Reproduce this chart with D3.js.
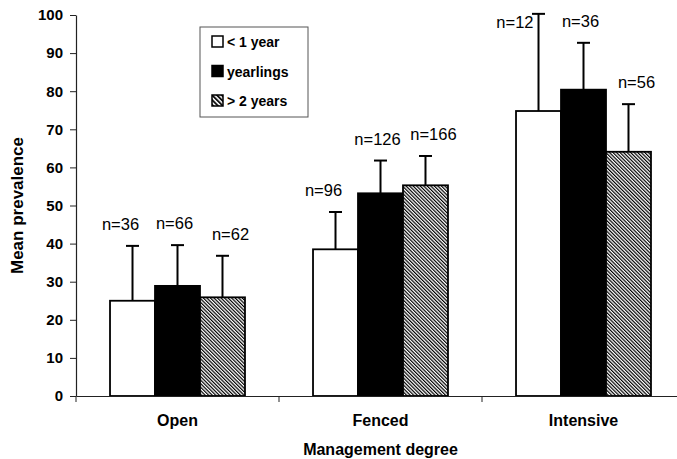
<!DOCTYPE html>
<html>
<head>
<meta charset="utf-8">
<script src="https://cdn.jsdelivr.net/npm/d3@7"></script>
<style>
  body { margin: 0; background: #fff; }
  svg { display: block; font-family: "Liberation Sans", Arial, sans-serif; }
</style>
</head>
<body>
<div id="chart"></div>
<script>
// data
const categories = ["Open", "Fenced", "Intensive"];
const groups = ["< 1 year", "yearlings", "> 2 years"];
const meanUnder1 = [25.0, 38.5, 74.8];
const meanYearlings = [28.9, 53.2, 80.4];
const meanOver2 = [25.9, 55.3, 64.1];
const sdUnder1 = [14.4, 9.8, 25.5];
const sdYearlings = [10.7, 8.6, 12.3];
const sdOver2 = [10.9, 7.7, 12.5];
const nUnder1 = [36, 96, 12];
const nYearlings = [66, 126, 36];
const nOver2 = [62, 166, 56];
const yTicks = [0, 10, 20, 30, 40, 50, 60, 70, 80, 90, 100];

const width = 677, height = 459;
const margin = { top: 15, left: 76, bottom: 63 };
const plotRight = 685;

const means = [meanUnder1, meanYearlings, meanOver2];
const sds = [sdUnder1, sdYearlings, sdOver2];
const ns = [nUnder1, nYearlings, nOver2];
const fills = ["#fff", "#000", "url(#hatch)"];
const labelDx = [-12, -3, 8];

const rows = [];
groups.forEach((g, gi) => {
  categories.forEach((c, ci) => {
    rows.push({ cat: c, group: g, gi: gi, mean: means[gi][ci], sd: sds[gi][ci], n: ns[gi][ci] });
  });
});

const svg = d3.select("#chart").append("svg")
  .attr("width", width)
  .attr("height", height);

// hatch patterns
const defs = svg.append("defs");
defs.append("pattern")
  .attr("id", "hatch")
  .attr("patternUnits", "userSpaceOnUse")
  .attr("width", 2.5)
  .attr("height", 2.5)
  .attr("patternTransform", "rotate(-45)")
  .call(p => {
    p.append("rect").attr("width", 2.5).attr("height", 2.5).attr("fill", "#fff");
    p.append("line").attr("x1", 0.6).attr("x2", 0.6).attr("y1", 0).attr("y2", 2.5)
      .attr("stroke", "#000").attr("stroke-width", 1.2);
  });
defs.append("pattern")
  .attr("id", "hatch-legend")
  .attr("patternUnits", "userSpaceOnUse")
  .attr("width", 3.4)
  .attr("height", 3.4)
  .attr("patternTransform", "rotate(-45)")
  .call(p => {
    p.append("rect").attr("width", 3.4).attr("height", 3.4).attr("fill", "#fff");
    p.append("line").attr("x1", 1).attr("x2", 1).attr("y1", 0).attr("y2", 3.4)
      .attr("stroke", "#000").attr("stroke-width", 1.8);
  });

// scales
const y = d3.scaleLinear()
  .domain([0, 100])
  .range([height - margin.bottom, margin.top]);

const x0 = d3.scaleBand()
  .domain(categories)
  .range([margin.left, plotRight])
  .paddingInner(0)
  .paddingOuter(0);

const x1 = d3.scaleBand()
  .domain(groups)
  .range([0, x0.bandwidth()])
  .paddingInner(0)
  .paddingOuter(0.756);

const y0 = y(0);

// y axis
const yAxis = svg.append("g")
  .attr("transform", "translate(" + margin.left + ",0)")
  .call(d3.axisLeft(y).tickValues(yTicks).tickSize(6).tickPadding(7).tickSizeOuter(0));
yAxis.select(".domain").attr("stroke", "#222").attr("stroke-width", 1.2);
yAxis.selectAll(".tick line").attr("stroke", "#222");
yAxis.selectAll(".tick text")
  .attr("font-size", 15)
  .attr("font-weight", "bold")
  .attr("font-family", "Liberation Sans, Arial, sans-serif")
  .attr("fill", "#000");

// bars
const bars = svg.append("g");
bars.selectAll("rect")
  .data(rows)
  .enter()
  .append("rect")
  .attr("x", d => x0(d.cat) + x1(d.group))
  .attr("width", x1.bandwidth())
  .attr("y", d => y(d.mean))
  .attr("height", d => y0 - y(d.mean))
  .attr("fill", d => fills[d.gi])
  .attr("stroke", "#000")
  .attr("stroke-width", 1.8);

// error bars
const err = svg.append("g").attr("stroke", "#000").attr("stroke-width", 2);
rows.forEach(d => {
  const cx = x0(d.cat) + x1(d.group) + x1.bandwidth() / 2;
  const top = y(d.mean + d.sd);
  err.append("line").attr("x1", cx).attr("x2", cx).attr("y1", y(d.mean)).attr("y2", top);
  err.append("line").attr("x1", cx - 6.5).attr("x2", cx + 6.5).attr("y1", top).attr("y2", top);
});

// n labels
svg.append("g")
  .selectAll("text")
  .data(rows)
  .enter()
  .append("text")
  .attr("font-size", 16.5)
  .attr("fill", "#000")
  .each(function (d) {
    const cx = x0(d.cat) + x1(d.group) + x1.bandwidth() / 2;
    const top = y(d.mean + d.sd);
    const t = d3.select(this).text("n=" + d.n);
    if (top - 16 - 12 < 0) {
      t.attr("x", cx - 5).attr("y", top + 14).attr("text-anchor", "end");
    } else {
      t.attr("x", cx + labelDx[d.gi]).attr("y", top - 16).attr("text-anchor", "middle");
    }
  });

// x axis
const xAxis = svg.append("g")
  .attr("transform", "translate(0," + y0 + ")")
  .call(d3.axisBottom(x0).tickSize(0).tickPadding(19).tickSizeOuter(0));
xAxis.select(".domain").attr("stroke", "#222").attr("stroke-width", 1.2);
xAxis.selectAll(".tick text")
  .attr("font-size", 16)
  .attr("font-weight", "bold")
  .attr("font-family", "Liberation Sans, Arial, sans-serif")
  .attr("fill", "#000");

// boundary tick marks between categories
const bounds = categories.map(c => x0(c)).concat([x0.range()[1]]);
xAxis.selectAll(".bound")
  .data(bounds)
  .enter()
  .append("line")
  .attr("x1", d => d)
  .attr("x2", d => d)
  .attr("y1", 0)
  .attr("y2", 6)
  .attr("stroke", "#222");

// axis titles
svg.append("text")
  .attr("x", (margin.left + plotRight) / 2)
  .attr("y", 455)
  .attr("text-anchor", "middle")
  .attr("font-size", 16)
  .attr("font-weight", "bold")
  .text("Management degree");

svg.append("text")
  .attr("transform", "translate(23," + (y(0) + y(100)) / 2 + ") rotate(-90)")
  .attr("text-anchor", "middle")
  .attr("font-size", 17)
  .attr("font-weight", "bold")
  .text("Mean prevalence");

// legend
const legend = svg.append("g").attr("transform", "translate(200,27)");
legend.append("rect")
  .attr("width", 108)
  .attr("height", 90)
  .attr("fill", "#fff")
  .attr("stroke", "#555")
  .attr("stroke-width", 1);
const legendFills = ["#fff", "#000", "url(#hatch-legend)"];
groups.forEach((g, i) => {
  const item = legend.append("g").attr("transform", "translate(12," + (20 + i * 29.5) + ")");
  item.append("rect")
    .attr("x", 0)
    .attr("y", -11)
    .attr("width", 11)
    .attr("height", 11)
    .attr("fill", legendFills[i])
    .attr("stroke", "#000")
    .attr("stroke-width", 1.5);
  item.append("text")
    .attr("x", 15)
    .attr("y", 0)
    .attr("font-size", 14)
    .attr("font-weight", "bold")
    .text(g);
});
</script>
</body>
</html>
